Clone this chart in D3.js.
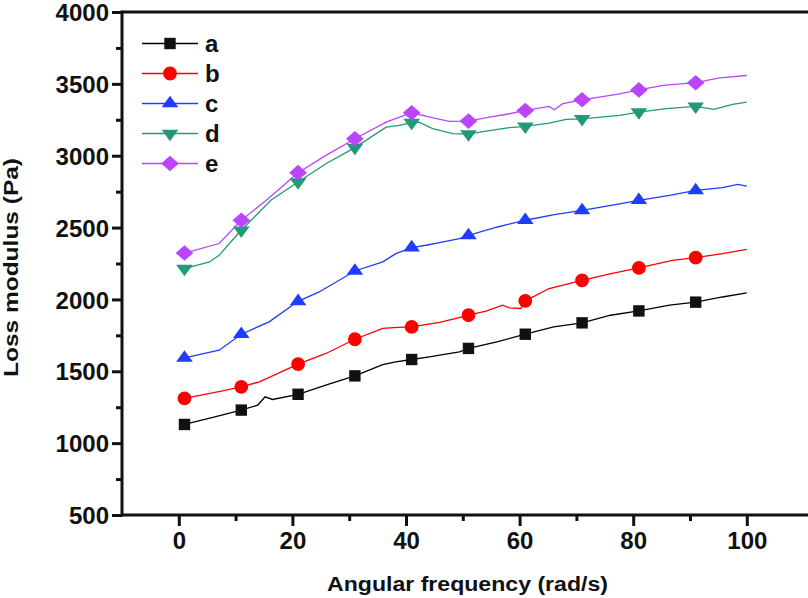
<!DOCTYPE html>
<html><head><meta charset="utf-8">
<script src="https://cdn.jsdelivr.net/npm/d3@7"></script>
<style>body{margin:0;background:#fff}svg{display:block}text{font-family:"Liberation Sans",Arial,sans-serif;font-weight:bold;fill:#111}</style>
</head><body>
<svg id="c" width="808" height="598"></svg>
<script>
const seriesNames = ["a","b","c","d","e"];
const seriesColors = ["#000000","#ff0000","#1f3cff","#229977","#bb44ff"];
const markerColors = ["#111111","#ff0000","#1f3cff","#229977","#bb44ff"];
const xTicks = [0,20,40,60,80,100];
const yTicks = [500,1000,1500,2000,2500,3000,3500,4000];

const freqA = [1,6,11,13.9,15.2,16.5,21,26,31,35.9,38.2,41,44.1,49.4,51,56,61,66,71,76,81,86.4,91,95.7,100];
const valA  = [1130,1180,1230,1265,1322,1304,1340,1405,1468,1547,1566,1582,1600,1635,1659,1705,1758,1809,1837,1890,1920,1960,1981,2017,2045];
const freqB = [1,7.7,11,14.2,21,25.9,31,35.9,38.5,41,45.9,49.4,51,54.1,57,58.2,60.2,61,65.2,71,76.1,81,86.9,91,95.7,100];
const valB  = [1311,1364,1392,1427,1550,1624,1723,1798,1805,1809,1840,1874,1890,1918,1960,1941,1937,1990,2076,2133,2180,2219,2272,2291,2319,2349];
const freqC = [1,7.1,11,15.9,21,24.7,31,35.9,38.2,41,43.5,45.9,49.4,51,56.1,61,66.1,71,76.1,81,86.4,91,95.7,98.4,100];
const valC  = [1593,1647,1758,1844,1987,2052,2198,2261,2319,2361,2377,2396,2423,2446,2504,2551,2590,2620,2655,2690,2724,2759,2778,2801,2789];
const freqD = [1,5.4,7.1,8.9,11,16.2,21,25.9,31,36.5,38.8,41,42.3,44.7,48.2,51,54.1,58.2,61,65.2,68.2,71,77.6,81,85.8,91,94.2,97.5,100];
const valD  = [2215,2261,2307,2389,2481,2690,2817,2944,3056,3199,3211,3230,3234,3188,3153,3150,3171,3195,3204,3227,3253,3257,3280,3303,3327,3343,3322,3357,3373];
const freqE = [1,7.1,11,15.4,21,25.9,31,36.5,41,44,47.6,51,54.7,58.2,61,65.2,66.1,67.6,71,77.6,81,85.2,91,95.2,100];
const valE  = [2323,2389,2551,2690,2882,3002,3118,3234,3299,3270,3239,3241,3269,3292,3315,3343,3320,3362,3389,3431,3458,3489,3508,3542,3558];
const markerFreq = [1,11,21,31,41,51,61,71,81,91];

const freqs = [freqA,freqB,freqC,freqD,freqE];
const vals = [valA,valB,valC,valD,valE];
const symbols = [d3.symbolSquare,d3.symbolCircle,d3.symbolTriangle,d3.symbolTriangle,d3.symbolSquare];
const symSizes = [130,150,120,120,135];
const symXform = ["", "", " scale(1,0.8)", " rotate(180) scale(1,0.8)", " scale(1.08,0.95) rotate(45)"];

const svg = d3.select("#c");
const L=122, T=12, B=515;
const x = d3.scaleLinear().domain([-10,110]).range([L, L+120*5.68]);
const y = d3.scaleLinear().domain([500,4000]).range([B,T]);

const line = d3.line().x(d=>x(d[0])).y(d=>y(d[1]));
const g = svg.append("g");
seriesNames.forEach((n,i)=>{
  const pts = freqs[i].map((f,j)=>[f,vals[i][j]]);
  g.append("path").attr("d",line(pts)).attr("fill","none").attr("stroke",seriesColors[i]).attr("stroke-width",1.3);
});
function interp(i,f){ return d3.scaleLinear().domain(freqs[i]).range(vals[i])(f); }
seriesNames.forEach((n,i)=>{
  const sym = d3.symbol().type(symbols[i]).size(symSizes[i]);
  markerFreq.forEach(f=>{
    const v = interp(i,f);
    g.append("path").attr("d",sym()).attr("fill",markerColors[i])
      .attr("transform",`translate(${x(f)},${y(v)})${symXform[i]}`);
  });
});

const xAxis = d3.axisBottom(x).tickValues(xTicks).tickSize(11).tickPadding(6).tickFormat(d3.format("d"));
const xMinor = d3.axisBottom(x).tickValues([10,30,50,70,90]).tickSize(6).tickFormat("");
const yAxis = d3.axisLeft(y).tickValues(yTicks).tickSize(10).tickPadding(3).tickFormat(d3.format("d"));
const yMinor = d3.axisLeft(y).tickValues([750,1250,1750,2250,2750,3250,3750]).tickSize(6).tickFormat("");
function styleAx(sel){ sel.select(".domain").remove(); sel.selectAll("line").attr("stroke","#111").attr("stroke-width",3); sel.selectAll("text").style("font-size","24px").style("font-weight","bold").style("font-family","'Liberation Sans',Arial,sans-serif").attr("fill","#111"); }
svg.append("g").attr("transform",`translate(0,${B})`).call(xAxis).call(styleAx).selectAll("text").attr("dy","0.7em");
svg.append("g").attr("transform",`translate(0,${B})`).call(xMinor).call(styleAx);
svg.append("g").attr("transform",`translate(${L},0)`).call(yAxis).call(styleAx).selectAll("text").attr("dy","0.36em");
svg.append("g").attr("transform",`translate(${L},0)`).call(yMinor).call(styleAx);
svg.append("line").attr("x1",L).attr("x2",810).attr("y1",B).attr("y2",B).attr("stroke","#111").attr("stroke-width",3);
svg.append("line").attr("x1",L).attr("x2",810).attr("y1",T).attr("y2",T).attr("stroke","#111").attr("stroke-width",3);
svg.append("line").attr("x1",L).attr("x2",L).attr("y1",T-1.5).attr("y2",B+1.5).attr("stroke","#111").attr("stroke-width",3);

svg.append("text").attr("x",467.5).attr("y",591).attr("text-anchor","middle").style("font-size","20px")
  .attr("textLength",281).attr("lengthAdjust","spacingAndGlyphs").text("Angular frequency (rad/s)");
svg.append("text").attr("transform","translate(18,267.5) rotate(-90)").attr("text-anchor","middle").style("font-size","20px")
  .attr("textLength",219).attr("lengthAdjust","spacingAndGlyphs").text("Loss modulus (Pa)");

const leg = svg.append("g");
seriesNames.forEach((n,i)=>{
  const ly = 43.5 + i*30;
  leg.append("line").attr("x1",142).attr("x2",198).attr("y1",ly).attr("y2",ly).attr("stroke",seriesColors[i]).attr("stroke-width",1.3);
  leg.append("path").attr("d",d3.symbol().type(symbols[i]).size(symSizes[i])()).attr("fill",markerColors[i])
    .attr("transform",`translate(170,${ly})${symXform[i]}`);
  leg.append("text").attr("x",205).attr("y",ly+8).style("font-size","24px").text(n);
});
</script>
</body></html>
